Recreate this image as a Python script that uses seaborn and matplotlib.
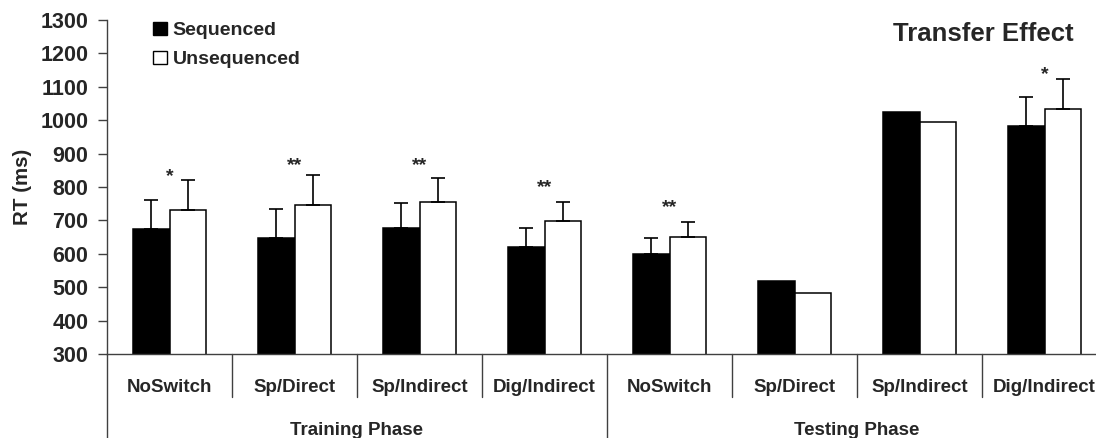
import numpy as np
import pandas as pd
import matplotlib
matplotlib.use('Agg')
import matplotlib.pyplot as plt
import seaborn as sns
from matplotlib.patches import Patch

# values (RT in ms)
conditions = ['NoSwitch', 'Sp/Direct', 'Sp/Indirect', 'Dig/Indirect',
              'NoSwitch', 'Sp/Direct', 'Sp/Indirect', 'Dig/Indirect']
phases = ['Training Phase', 'Testing Phase']
seq_rt = [674, 647, 678, 619, 600, 519, 1024, 982]
unseq_rt = [731, 746, 754, 697, 650, 484, 996, 1035]
seq_err = [88, 88, 73, 58, 46, np.nan, np.nan, 88]
unseq_err = [89, 89, 72, 57, 46, np.nan, np.nan, 88]
stars = ['*', '**', '**', '**', '**', '', '', '*']
star_y = [819, 852, 852, 784, 724, np.nan, np.nan, 1123]
groups = ['Sequenced', 'Unsequenced']

sns.set_theme(style='white')
plt.rcParams['font.family'] = ['Liberation Sans', 'DejaVu Sans']
plt.rcParams['font.weight'] = 'bold'

keys = [f'{i}' for i in range(len(conditions))]
df = pd.DataFrame({
    'cond': keys * 2,
    'rt': seq_rt + unseq_rt,
    'group': [groups[0]] * len(keys) + [groups[1]] * len(keys),
})

fig = plt.figure(figsize=(10.96, 4.38), dpi=100)
ax = fig.add_axes([107 / 1096, 84 / 438, 1000 / 1096, 334 / 438])

sns.barplot(data=df, x='cond', y='rt', hue='group', order=keys, hue_order=groups,
            palette={'Sequenced': 'black', 'Unsequenced': 'white'},
            edgecolor='black', linewidth=1.1, width=0.58, errorbar=None,
            legend=False, ax=ax)

# upward-only error bars at bar centres
for cont, errs in zip(ax.containers, [seq_err, unseq_err]):
    for bar, e in zip(cont, errs):
        if np.isnan(e):
            continue
        xc = bar.get_x() + bar.get_width() / 2
        ax.errorbar(xc, bar.get_height(), yerr=[[0], [e]], fmt='none',
                    ecolor='black', elinewidth=1.2, capsize=5, capthick=1.2)

# significance markers
for i, (s, y) in enumerate(zip(stars, star_y)):
    if s:
        ax.text(i, y, s, ha='center', va='baseline', fontsize=14, fontweight='bold')

ax.set_ylim(300, 1300)
ax.set_xlim(-0.5, 7.5)
ax.set_yticks(range(300, 1301, 100))
ax.tick_params(axis='y', which='major', left=True, length=6.5, width=1,
               color='#404040', pad=7, labelsize=15.5)
for lab in ax.get_yticklabels():
    lab.set_fontweight('bold')
ax.set_xticks([])
ax.set_xlabel('')
ax.set_ylabel('')

for side in ['top', 'right']:
    ax.spines[side].set_visible(False)
for side in ['left', 'bottom']:
    ax.spines[side].set_color('#404040')
    ax.spines[side].set_linewidth(1)

# category and phase labels under the axis
trans = ax.get_xaxis_transform()
for i, c in enumerate(conditions):
    ax.text(i, -0.113, c, transform=trans, ha='center', va='baseline',
            fontsize=13.5, fontweight='bold')
for j, p in enumerate(phases):
    ax.text(1.5 + 4 * j, -0.2425, p, transform=trans, ha='center', va='baseline',
            fontsize=13.5, fontweight='bold', clip_on=False)

for k in range(9):
    xb = k - 0.5
    y_end = -0.26 if k in (0, 4) else -0.129
    ax.plot([xb, xb], [0, y_end], transform=trans, color='#404040', lw=1,
            clip_on=False)

fig.text(22 / 1096, 0.5 * (1 + 84 / 438 - 19.5 / 438), 'RT (ms)', rotation=90,
         ha='center', va='center', fontsize=14.8, fontweight='bold')

ax.text(0.876, 0.938, 'Transfer Effect', transform=ax.transAxes, ha='center',
        va='baseline', fontsize=18.5, fontweight='bold')

handles = [Patch(facecolor='black', edgecolor='black'),
           Patch(facecolor='white', edgecolor='black')]
ax.legend(handles, groups, loc='upper left', bbox_to_anchor=(0.046, 0.994),
          frameon=False, borderpad=0, borderaxespad=0, handlelength=0.7,
          handleheight=0.62, handletextpad=0.32, labelspacing=0.62,
          prop={'weight': 'bold', 'size': 14})

fig.savefig('out.png', dpi=100)
